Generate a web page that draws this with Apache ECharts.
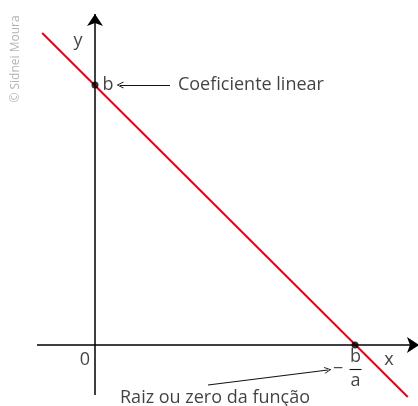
<!DOCTYPE html>
<html><head><meta charset="utf-8">
<script src="https://cdn.jsdelivr.net/npm/echarts@6/dist/echarts.min.js"></script>
<style>html,body{margin:0;padding:0;background:#fff}#c{width:418px;height:406px}</style>
</head><body><div id="c"></div>
<script>
// ---- data (units: b = 10, root -b/a = 10) ----
const bValue = 10;
const rootValue = 10;
const redLine = [[-2.03, 12.0], [12.03, -2.0]];
const keyPoints = [[0, bValue], [rootValue, 0]];
const xAxisSpan = [[-2.23, 0], [12.46, 0]];
const yAxisSpan = [[0, -1.92], [0, 12.73]];
const xRange = [-3.654, 12.423];
const yRange = [-2.346, 13.269];
// ---- annotations ----
const textLabels = [
  { pos: [-0.654, 11.7], text: 'y' },
  { pos: [0.5, 10.0], text: 'b' },
  { pos: [3.19, 10.0], text: 'Coeficiente linear', align: 'left' },
  { pos: [-0.385, -0.577], text: '0' },
  { pos: [11.31, -0.577], text: 'x' },
  { pos: [9.35, -0.93], text: '\u2212' },
  { pos: [10.02, -0.45], text: 'b' },
  { pos: [10.02, -1.38], text: 'a' },
  { pos: [0.962, -2.04], text: 'Raiz ou zero da fun\u00e7\u00e3o', align: 'left' }
];
const pointerArrows = [
  [[2.885, 10.0], [0.962, 10.0]],
  [[4.346, -1.538], [8.96, -0.96]]
];
const fractionBar = [[9.79, -0.93], [10.25, -0.93]];
const credit = { pos: [-3.04, 11.0], text: '\u00a9 Sidnei Moura' };

const ink = '#111';
const font = '"Open Sans", sans-serif';
const chart = echarts.init(document.getElementById('c'));
const openArrow = 'path://M5,0 L10,10 L8.6,10 L5,2.6 L1.4,10 L0,10 Z';

chart.setOption({
  animation: false,
  backgroundColor: '#fff',
  grid: { left: 0, right: 0, top: 0, bottom: 0 },
  xAxis: { type: 'value', min: xRange[0], max: xRange[1], show: false },
  yAxis: { type: 'value', min: yRange[0], max: yRange[1], show: false },
  series: [
    {
      type: 'lines', coordinateSystem: 'cartesian2d', polyline: false,
      symbol: ['none', 'arrow'], symbolSize: [9, 12],
      lineStyle: { color: '#000', width: 1.5, opacity: 1 },
      data: [{ coords: xAxisSpan }, { coords: yAxisSpan }],
      z: 2
    },
    {
      type: 'lines', coordinateSystem: 'cartesian2d',
      symbol: ['none', openArrow], symbolSize: [8, 7],
      lineStyle: { color: ink, width: 1.1, opacity: 1 },
      data: pointerArrows.map(c => ({ coords: c })),
      z: 2
    },
    {
      type: 'lines', coordinateSystem: 'cartesian2d',
      symbol: 'none',
      lineStyle: { color: ink, width: 1.1, opacity: 1 },
      data: [{ coords: fractionBar }],
      z: 2
    },
    {
      type: 'line', data: redLine, symbol: 'none',
      lineStyle: { color: '#e8001c', width: 2 }, z: 3
    },
    {
      type: 'scatter', data: keyPoints, symbol: 'circle', symbolSize: 7,
      itemStyle: { color: '#000' }, z: 4
    },
    {
      type: 'scatter', symbolSize: 0, z: 5,
      data: textLabels.map(t => ({
        value: t.pos,
        label: { show: true, position: 'inside', formatter: t.text, align: t.align || 'center',
          verticalAlign: 'middle', color: ink, fontSize: 18, fontFamily: font }
      }))
    },
    {
      type: 'scatter', symbolSize: 0, z: 5,
      data: [{ value: credit.pos,
        label: { show: true, position: 'inside', formatter: credit.text, rotate: 90,
          align: 'center', verticalAlign: 'middle', color: '#a0a0a0', fontSize: 12, fontFamily: font } }]
    }
  ]
});
</script></body></html>
